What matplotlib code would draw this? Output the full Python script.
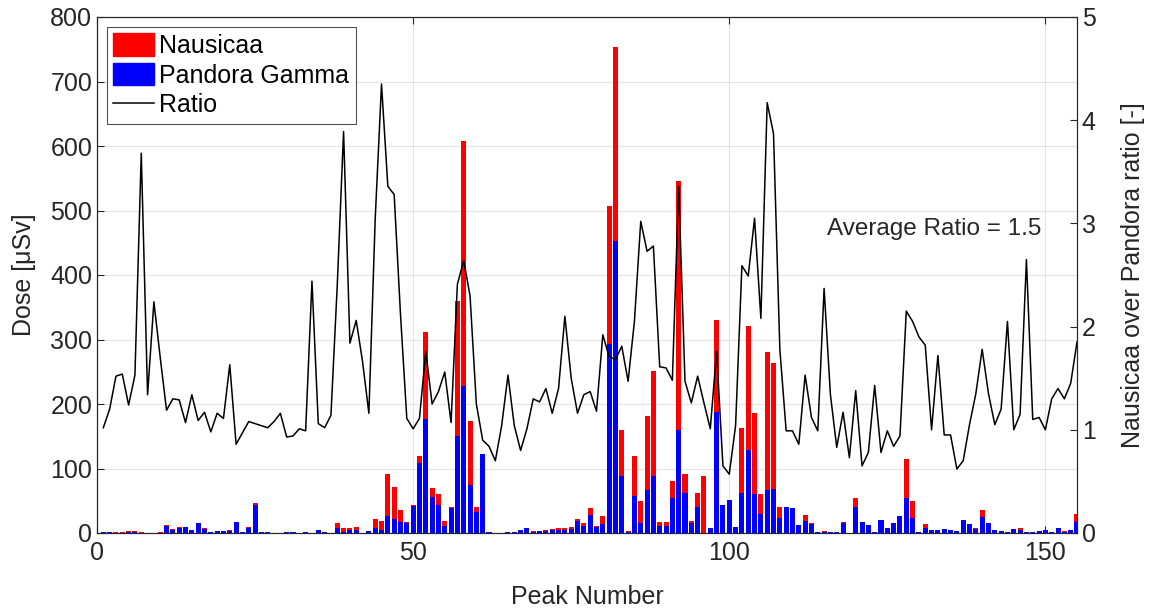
import numpy as np
import matplotlib
matplotlib.use("Agg")
import matplotlib.pyplot as plt
from matplotlib.patches import Patch
from matplotlib.lines import Line2D

plt.rcParams['font.family'] = ['Liberation Sans', 'DejaVu Sans']

# Peak index
peaks = np.arange(1, 156)

# Nausicaa dose per peak [uSv]
nausicaa = [
    2, 1.2, 0.8, 0.8, 2.5, 3, 1.8, 0.4, 0.7, 0.8,
    13, 6.5, 10, 9.6, 5.4, 16, 7, 1, 3.5, 3.3,
    4.9, 15, 2, 9, 47, 1, 1, 0.3, 0.35, 1,
    1, 0.3, 1, 0.7, 5.3, 1.5, 0.35, 16, 7, 8,
    9.5, 0.5, 3.5, 22, 18, 92, 72, 36, 17, 43,
    120, 312, 70, 60, 18, 40, 360, 607, 173, 41,
    110, 1.7, 0.35, 0.5, 1.5, 2, 3.2, 7, 2.6, 3.8,
    4.2, 5.8, 7, 8.4, 9, 21, 15, 39, 10.6, 27,
    507, 753, 160, 3, 119, 49, 182, 251, 17, 17,
    80, 545, 91, 19, 62, 89, 7, 331, 28, 29,
    9.4, 163, 321, 186, 61, 280, 263, 41, 40, 38,
    10, 28, 16, 2, 2.4, 1.3, 0.8, 17.5, 0.4, 55,
    11, 9.4, 1.4, 16, 7, 13, 24, 114, 50, 1.9,
    14, 5, 5, 4, 3, 2, 20, 14, 8, 35,
    15, 5, 3, 2, 6, 7, 2, 2, 3, 5,
    2, 8, 3, 5, 30,
]

# Pandora Gamma dose per peak [uSv]
pandora = [
    2, 1, 0.5, 0.5, 2, 2, 0.5, 0.3, 0.3, 0.5,
    11, 5, 8, 9, 4, 15, 6, 1, 3, 3,
    3, 17, 2, 8, 44, 1, 1, 0.3, 0.3, 1,
    1, 0.3, 1, 0.3, 5, 1.5, 0.3, 7, 2, 5,
    5, 0.3, 3, 8, 4, 27, 22, 17, 15, 42,
    108, 176, 56, 43, 11, 38, 150, 228, 75, 32,
    122, 2, 0.5, 0.5, 1, 2, 4, 7, 2, 3,
    3, 5, 5, 4, 6, 18, 11, 28, 9, 14,
    293, 452, 88, 2, 58, 16, 67, 89, 10.5, 10.5,
    54, 160, 62, 15, 41, 0, 7, 187, 43, 51,
    9, 62, 129, 61, 29, 67, 68, 23, 40, 38,
    12, 18, 14, 2, 1, 1, 1, 15, 0.5, 40,
    17, 12, 1, 20, 7, 15, 26, 54, 24, 1,
    8, 5, 5, 6, 5, 3, 20, 14, 6, 25,
    15, 4, 3, 1.5, 6, 5, 2, 2, 3, 4,
    2, 7, 2, 4, 17,
]

# Nausicaa over Pandora ratio per peak [-]
ratio = [
    1.02, 1.20, 1.52, 1.54, 1.24, 1.53, 3.68, 1.34, 2.24, 1.70,
    1.19, 1.30, 1.29, 1.07, 1.34, 1.09, 1.17, 0.98, 1.16, 1.11,
    1.63, 0.86, 0.97, 1.08, 1.06, 1.04, 1.02, 1.08, 1.16, 0.93,
    0.94, 1.01, 0.99, 2.44, 1.06, 1.02, 1.14, 2.40, 3.89, 1.84,
    2.06, 1.66, 1.16, 3.04, 4.35, 3.36, 3.28, 2.12, 1.11, 1.01,
    1.11, 1.76, 1.25, 1.37, 1.56, 1.07, 2.41, 2.64, 2.30, 1.25,
    0.90, 0.84, 0.70, 1.04, 1.53, 1.04, 0.80, 1.01, 1.30, 1.27,
    1.40, 1.16, 1.40, 2.10, 1.50, 1.16, 1.34, 1.37, 1.18, 1.92,
    1.71, 1.68, 1.81, 1.47, 2.05, 3.02, 2.73, 2.78, 1.61, 1.60,
    1.48, 3.36, 1.47, 1.26, 1.52, 1.26, 1.01, 1.76, 0.65, 0.57,
    1.04, 2.59, 2.49, 3.05, 2.08, 4.17, 3.87, 1.78, 0.99, 0.99,
    0.86, 1.53, 1.12, 0.99, 2.37, 1.34, 0.83, 1.17, 0.73, 1.38,
    0.65, 0.78, 1.43, 0.78, 0.99, 0.84, 0.94, 2.15, 2.05, 1.90,
    1.82, 1.00, 1.72, 0.95, 0.95, 0.62, 0.70, 1.05, 1.35, 1.78,
    1.35, 1.05, 1.20, 2.05, 1.00, 1.15, 2.65, 1.10, 1.12, 1.00,
    1.30, 1.40, 1.30, 1.45, 1.85,
]

average_ratio = 1.5

FS = 18
TXT = '#262626'

fig = plt.figure(figsize=(11.51, 6.11), dpi=100)
ax = fig.add_axes([97 / 1151, (611 - 533) / 611, (1077 - 97) / 1151, (533 - 17) / 611])
ax2 = ax.twinx()

ax.bar(peaks, nausicaa, width=0.8, color='#ff0000', zorder=2)
ax.bar(peaks, pandora, width=0.8, color='#0000ff', zorder=3)
ax2.plot(peaks, ratio, color='black', lw=1.1, zorder=4)

ax.set_xlim(0, 155)
ax.set_ylim(0, 800)
ax2.set_ylim(0, 5)
ax.set_xticks([0, 50, 100, 150])
ax.set_yticks(np.arange(0, 801, 100))
ax2.set_yticks(np.arange(0, 6, 1))

ax.grid(True, color='#e3e3e3', lw=0.8, zorder=0)
ax.set_axisbelow(True)

for a in (ax, ax2):
    a.tick_params(direction='in', length=5, width=0.8, labelsize=FS, colors=TXT)
    for s in a.spines.values():
        s.set_color(TXT)
        s.set_linewidth(0.8)
ax.tick_params(top=True)
ax.tick_params(axis='x', pad=6)

ax.set_xlabel('Peak Number', fontsize=FS, color=TXT, labelpad=14)
ax.set_ylabel('Dose [μSv]', fontsize=FS, color=TXT, labelpad=10)
ax2.set_ylabel('Nausicaa over Pandora ratio [-]', fontsize=FS, color=TXT, labelpad=18)

ax2.text(0.745, 0.59, f'Average Ratio = {average_ratio}', transform=ax.transAxes,
         fontsize=17.5, color=TXT, ha='left', va='center')

handles = [Patch(facecolor='#ff0000', edgecolor='#ff0000'),
           Patch(facecolor='#0000ff', edgecolor='#0000ff'),
           Line2D([0], [0], color='black', lw=1.1)]
leg = ax2.legend(handles, ['Nausicaa', 'Pandora Gamma', 'Ratio'], loc='upper left',
                 fontsize=FS, frameon=True, fancybox=False, edgecolor=TXT,
                 handlelength=1.65, handleheight=1.0, handletextpad=0.2,
                 borderpad=0.25, labelspacing=0.2, borderaxespad=0.4)
leg.get_frame().set_linewidth(0.8)

fig.savefig('out.png', dpi=100)
